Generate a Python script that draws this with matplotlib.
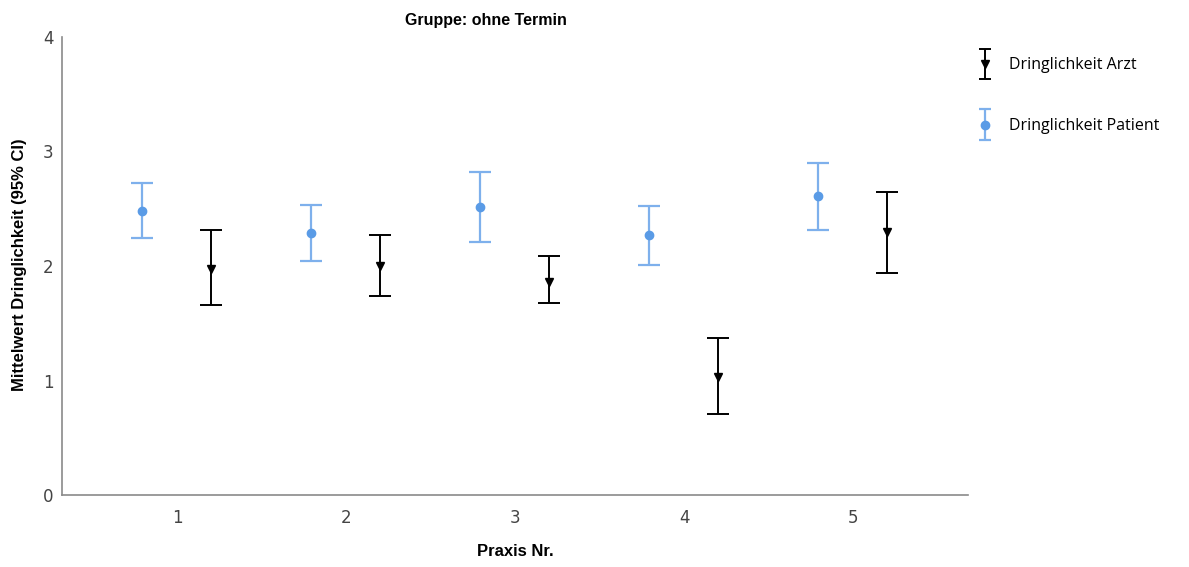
import matplotlib
matplotlib.use("Agg")
import matplotlib.pyplot as plt
from matplotlib.legend_handler import HandlerErrorbar
from matplotlib.container import ErrorbarContainer
from matplotlib.lines import Line2D
import numpy as np

praxis = [1, 2, 3, 4, 5]
patient_mean = [2.477, 2.284, 2.512, 2.267, 2.608]
patient_lo = [2.241, 2.040, 2.206, 2.013, 2.311]
patient_hi = [2.722, 2.530, 2.818, 2.520, 2.897]
arzt_mean = [1.978, 2.004, 1.864, 1.033, 2.293]
arzt_lo = [1.663, 1.742, 1.680, 0.709, 1.943]
arzt_hi = [2.311, 2.267, 2.083, 1.374, 2.643]

blue = "#5A9BE6"
blue_bar = "#7EB0EC"

fig = plt.figure(figsize=(11.89, 5.67), dpi=100)
ax = fig.add_axes([62/1189, 1-495/567, (968-62)/1189, (495-37)/567])

x = np.array(praxis, dtype=float)
pm = np.array(patient_mean); am = np.array(arzt_mean)
perr = [pm - np.array(patient_lo), np.array(patient_hi) - pm]
aerr = [am - np.array(arzt_lo), np.array(arzt_hi) - am]

ha = ax.errorbar(x + 0.2, am, yerr=aerr, fmt='v', color='black', ms=6,
                 ecolor='black', elinewidth=1.4, capsize=8, capthick=1.4,
                 label='Dringlichkeit Arzt')
hp = ax.errorbar(x - 0.207, pm, yerr=perr, fmt='o', color=blue, ms=6,
                 ecolor=blue_bar, elinewidth=1.6, capsize=8, capthick=1.6,
                 label='Dringlichkeit Patient')

ax.set_xlim(0.32, 5.68)
ax.set_ylim(0, 4.0)
ax.set_xticks(praxis)
ax.set_yticks([0, 1, 2, 3, 4])
narrow = ['Liberation Sans Narrow', 'DejaVu Sans']
ax.set_xticklabels([str(p) for p in praxis], family=narrow, fontsize=12, color='#444444')
ax.set_yticklabels(['0', '1', '2', '3', '4'], family=narrow, fontsize=12, color='#444444')
ax.tick_params(length=0, pad=10)
ax.tick_params(axis='y', pad=6)
for s in ['top', 'right']:
    ax.spines[s].set_visible(False)
for s in ['left', 'bottom']:
    ax.spines[s].set_color('#8a8a8a')
    ax.spines[s].set_linewidth(1.2)

fig.text(486/1189, 1-20/567, 'Gruppe: ohne Termin', ha='center', va='center',
         family='Liberation Sans', fontweight='bold', fontsize=11.5)
fig.text(515/1189, 1-551/567, 'Praxis Nr.', ha='center', va='center',
         family='Liberation Sans', fontweight='bold', fontsize=12)
fig.text(20/1189, 1-265/567, 'Mittelwert Dringlichkeit (95% CI)', ha='center', va='center',
         rotation=90, family='Liberation Sans', fontweight='bold', fontsize=12)

leg = fig.legend(handles=[ha, hp], labels=['Dringlichkeit Arzt', 'Dringlichkeit Patient'],
                 loc='upper left', bbox_to_anchor=(963/1189, 1-43/567), frameon=False,
                 prop={'family': 'Open Sans', 'size': 11.5}, labelspacing=2.8,
                 handlelength=1.0, handletextpad=1.0,
                 handler_map={ErrorbarContainer: HandlerErrorbar(xerr_size=0.35, yerr_size=0.95)})
for ln in leg.findobj(Line2D):
    if ln.get_marker() == '_':
        ln.set_markersize(9)

fig.savefig('out.png', dpi=100)
